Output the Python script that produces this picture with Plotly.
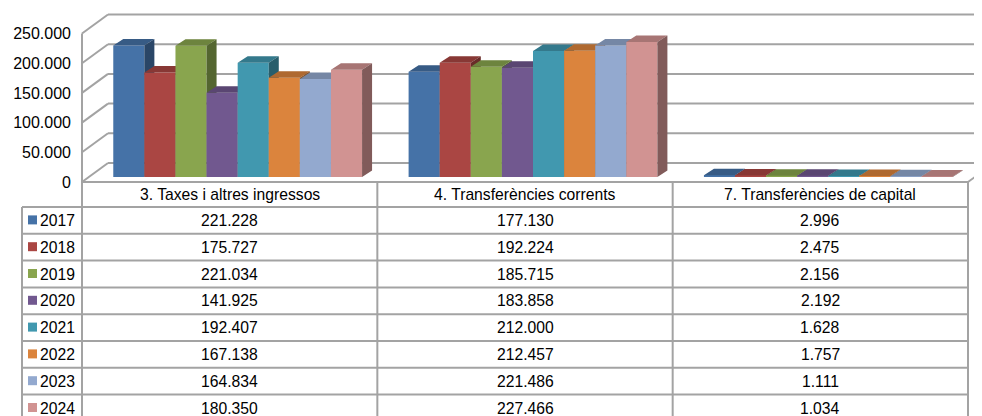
import plotly.graph_objects as go

# ---------------- data ----------------
CATEGORIES = ["3. Taxes i altres ingressos", "4. Transferències corrents", "7. Transferències de capital"]
YEARS = ["2017", "2018", "2019", "2020", "2021", "2022", "2023", "2024"]
TAXES = [221228, 175727, 221034, 141925, 192407, 167138, 164834, 180350]
CORRENTS = [177130, 192224, 185715, 183858, 212000, 212457, 221486, 227466]
CAPITAL = [2996, 2475, 2156, 2192, 1628, 1757, 1111, 1034]
Y_TICKS = [0, 50000, 100000, 150000, 200000, 250000]
Y_TICK_LABELS = ["0", "50.000", "100.000", "150.000", "200.000", "250.000"]

COLORS = ["#4572A7", "#AA4643", "#89A54E", "#71588F", "#4198AF", "#DB843D", "#93A9CF", "#D19392"]

# ---------------- geometry (pixels in the window) ----------------
WIN_W, WIN_H = 982, 416
OFF = 8                          # page margin in front of the figure
W, H = WIN_W - OFF, WIN_H - OFF  # figure size
PLOT_L = 80                      # left edge of plot area (window px)
FRONT_X0 = 82                    # left edge of the front plane / first column
COL_W = 886 / 3                  # width of a category column
FRONT_Y0 = 182                   # value 0 on the front plane
PX_PER_UNIT = 148.5 / 250000     # vertical scale
WALL_DX, WALL_DY = 26, 19        # depth offset of the back wall
BAR_BASE_PX = 5                  # bars stand on a plane slightly behind the front
GROUP_SHIFT_PX = 8
BAR_W_PX = 31.1
DEPTH_DX, DEPTH_DY = 10, 6.5     # bar depth
ROW_TOP = 207
ROW_H = 26.8
LEG_X0 = 22
GRID = "#a3a3a3"
FONT = "Liberation Sans, Arial, sans-serif"


def ux(dpx):
    return dpx / COL_W


def uy(dpx):
    return dpx / PX_PER_UNIT


def paper_x(px):
    return (px - PLOT_L) / (WIN_W - PLOT_L)


def paper_y(py):
    return 1 - (py - OFF) / H


XR = [ux(PLOT_L - FRONT_X0), ux(WIN_W - FRONT_X0)]
YR = [-uy(WIN_H - FRONT_Y0), uy(FRONT_Y0 - OFF)]


def darker(hexc, f):
    r, g, b = int(hexc[1:3], 16), int(hexc[3:5], 16), int(hexc[5:7], 16)
    return "rgb(%d,%d,%d)" % (r * f, g * f, b * f)


fig = go.Figure()

w = ux(BAR_W_PX)
base = uy(BAR_BASE_PX)
ddx, ddy = ux(DEPTH_DX), uy(DEPTH_DY)
series_values = [[TAXES[j], CORRENTS[j], CAPITAL[j]] for j in range(len(YEARS))]

for j, year in enumerate(YEARS):
    xa = "x" if j == 0 else "x%d" % (j + 1)
    ya = "y" if j == 0 else "y%d" % (j + 1)
    vals = series_values[j]
    centers = [i + 0.5 + ux(GROUP_SHIFT_PX) + (j - 3.5) * w for i in range(len(CATEGORIES))]
    fig.add_trace(go.Bar(x=centers, y=vals, base=base, width=w, name=year,
                         marker=dict(color=COLORS[j], line=dict(width=0)),
                         xaxis=xa, yaxis=ya, showlegend=False, hoverinfo="skip"))
    tx, ty, sx, sy = [], [], [], []
    for c, v in zip(centers, vals):
        x0, x1 = c - w / 2, c + w / 2
        t = base + v
        tx += [x0, x1, x1 + ddx, x0 + ddx, x0, None]
        ty += [t, t, t + ddy, t + ddy, t, None]
        sx += [x1, x1, x1 + ddx, x1 + ddx, x1, None]
        sy += [base, t, t + ddy, base + ddy, base, None]
    fig.add_trace(go.Scatter(x=tx, y=ty, mode="lines", fill="toself", line=dict(width=0),
                             fillcolor=darker(COLORS[j], 0.8), xaxis=xa, yaxis=ya,
                             showlegend=False, hoverinfo="skip"))
    fig.add_trace(go.Scatter(x=sx, y=sy, mode="lines", fill="toself", line=dict(width=0),
                             fillcolor=darker(COLORS[j], 0.62), xaxis=xa, yaxis=ya,
                             showlegend=False, hoverinfo="skip"))

shapes = []
dxw, dyw = ux(WALL_DX), uy(WALL_DY)
ncat = len(CATEGORIES)
# front vertical axis edge
shapes.append(dict(type="line", xref="x", yref="y", x0=0, x1=0, y0=0, y1=Y_TICKS[-1],
                   line=dict(color=GRID, width=2), layer="below"))
for v in Y_TICKS:
    # side wall diagonal
    shapes.append(dict(type="line", xref="x", yref="y", x0=0, x1=dxw, y0=v, y1=v + dyw,
                       line=dict(color=GRID, width=2), layer="below"))
    # back wall gridline
    shapes.append(dict(type="line", xref="x", yref="y", x0=dxw, x1=ncat + 2 * dxw, y0=v + dyw, y1=v + dyw,
                       line=dict(color=GRID, width=2), layer="below"))
# floor front edge and right diagonal
shapes.append(dict(type="line", xref="x", yref="y", x0=0, x1=ncat, y0=0, y1=0,
                   line=dict(color=GRID, width=2), layer="below"))
shapes.append(dict(type="line", xref="x", yref="y", x0=ncat, x1=ncat + dxw, y0=0, y1=dyw,
                   line=dict(color=GRID, width=2), layer="below"))

# table
n = len(YEARS)
right_px = FRONT_X0 + ncat * COL_W
for k in range(n + 1):
    yy = ROW_TOP + k * ROW_H
    shapes.append(dict(type="line", xref="paper", yref="paper", x0=paper_x(LEG_X0), x1=paper_x(right_px),
                       y0=paper_y(yy), y1=paper_y(yy), line=dict(color=GRID, width=2)))
shapes.append(dict(type="line", xref="paper", yref="paper", x0=paper_x(LEG_X0), x1=paper_x(LEG_X0),
                   y0=paper_y(ROW_TOP), y1=paper_y(WIN_H + 5), line=dict(color=GRID, width=2)))
for c in range(ncat + 1):
    xx = FRONT_X0 + c * COL_W
    shapes.append(dict(type="line", xref="paper", yref="paper", x0=paper_x(xx), x1=paper_x(xx),
                       y0=paper_y(FRONT_Y0), y1=paper_y(WIN_H + 5), line=dict(color=GRID, width=2)))

annotations = []
TFS = 15.7
for c, cat in enumerate(CATEGORIES):
    annotations.append(dict(xref="paper", yref="paper", x=paper_x(FRONT_X0 + (c + 0.5) * COL_W),
                            y=paper_y((FRONT_Y0 + ROW_TOP) / 2), text=cat, showarrow=False,
                            xanchor="center", yanchor="middle",
                            font=dict(family=FONT, size=TFS, color="#000")))
for j, year in enumerate(YEARS):
    yc = ROW_TOP + (j + 0.5) * ROW_H
    shapes.append(dict(type="rect", xref="paper", yref="paper", x0=paper_x(28), x1=paper_x(37),
                       y0=paper_y(yc - 5), y1=paper_y(yc + 4), fillcolor=COLORS[j], line=dict(width=0)))
    annotations.append(dict(xref="paper", yref="paper", x=paper_x(38), y=paper_y(yc), text=year,
                            showarrow=False, xanchor="left", yanchor="middle",
                            font=dict(family=FONT, size=TFS, color="#000")))
    for c, v in enumerate(series_values[j]):
        annotations.append(dict(xref="paper", yref="paper", x=paper_x(FRONT_X0 + (c + 0.5) * COL_W),
                                y=paper_y(yc), text=f"{v:,}".replace(",", "."), showarrow=False,
                                xanchor="center", yanchor="middle",
                                font=dict(family=FONT, size=TFS, color="#000")))

layout = dict(
    width=W, height=H, margin=dict(l=PLOT_L - OFF, r=0, t=0, b=0, autoexpand=False),
    paper_bgcolor="white", plot_bgcolor="white", barmode="overlay", showlegend=False,
    xaxis=dict(range=XR, visible=False, fixedrange=True),
    yaxis=dict(range=YR, tickvals=Y_TICKS, ticktext=Y_TICK_LABELS, showgrid=False, zeroline=False,
               showline=False, ticks="", ticklabelstandoff=8,
               tickfont=dict(family=FONT, size=16, color="#000"), fixedrange=True),
    shapes=shapes, annotations=annotations,
)
for k in range(2, n + 1):
    layout["xaxis%d" % k] = dict(overlaying="x", range=XR, visible=False, fixedrange=True)
    layout["yaxis%d" % k] = dict(overlaying="y", range=YR, visible=False, fixedrange=True)
fig.update_layout(**layout)

fig.write_html("out.html")
